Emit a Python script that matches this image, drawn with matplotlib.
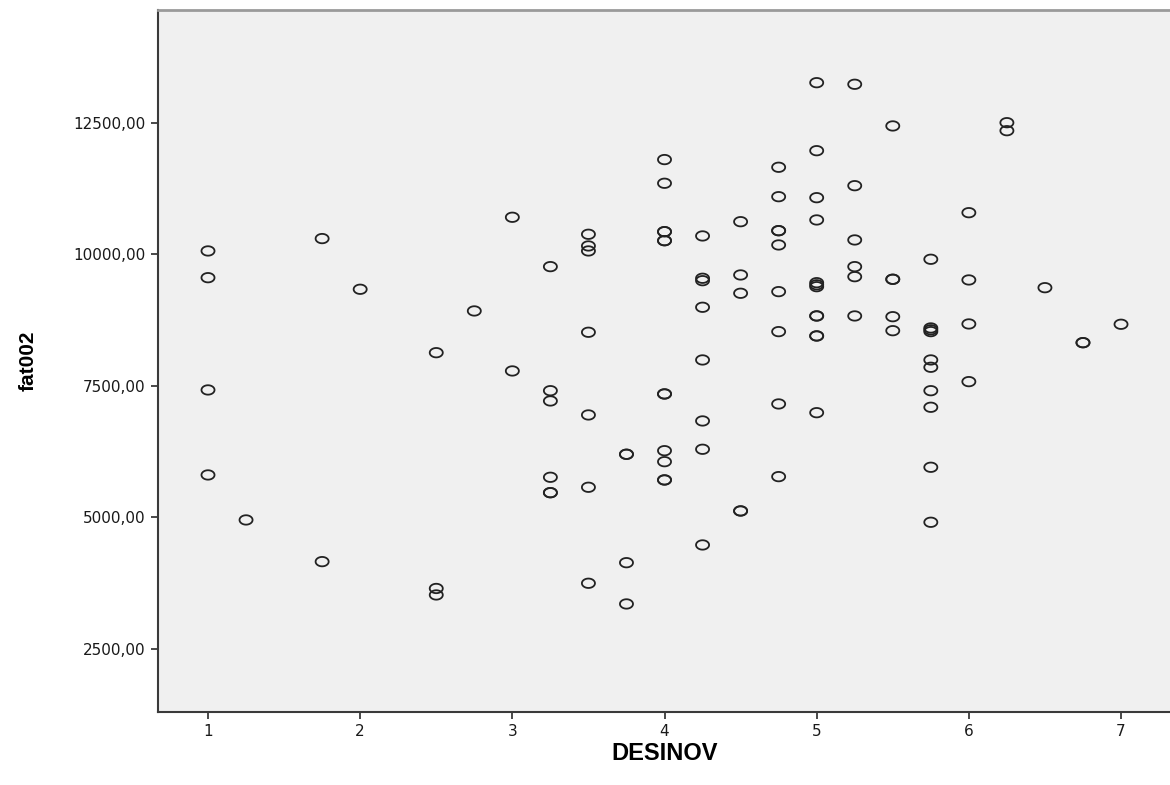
import matplotlib
matplotlib.use("Agg")
import matplotlib.pyplot as plt
import numpy as np
from matplotlib.path import Path

# ---- data ----
desinov = (
    [1, 1, 1, 1] + [1.25] + [1.75, 1.75] + [2] + [2.5, 2.5, 2.5] + [2.75] + [3, 3]
    + [3.25] * 6 + [3.5] * 7 + [3.75] * 4 + [4] * 12 + [4.25] * 8 + [4.5] * 5
    + [4.75] * 9 + [5] * 12 + [5.25] * 6 + [5.5] * 5 + [5.75] * 10 + [6] * 4
    + [6.25] * 2 + [6.5] + [6.75] * 2 + [7]
)
fat002 = [
    10063, 9555, 7422, 5807,
    4952,
    10298, 4160,
    9335,
    8130, 3650, 3527,
    8923,
    10703, 7783,
    9765, 7408, 7213, 5763, 5470, 5470,
    10380, 10158, 10063, 8518, 6947, 5573, 3749,
    6200, 6200, 4140, 3356,
    11799, 11349, 10429, 10429, 10258, 10258, 7346, 7346, 6268, 6059, 5712, 5712,
    10348, 9544, 9498, 8993, 7992, 6833, 6295, 4477,
    10619, 9607, 9259, 5123, 5123,
    11653, 11094, 10448, 10448, 10177, 9290, 8530, 7156, 5775,
    13260, 11968, 11075, 10652, 9460, 9420, 9384, 8828, 8828, 8448, 8448, 6990,
    13230, 11303, 10272, 9765, 9574, 8828,
    12438, 9525, 9525, 8814, 8548,
    9905, 8600, 8565, 8530, 7992, 7853, 7408, 7093, 5953, 4908,
    10790, 9512, 8676, 7580,
    12500, 12348,
    9365,
    8320, 8320,
    8670,
]
xticks = [1, 2, 3, 4, 5, 6, 7]
xtick_labels = ["1", "2", "3", "4", "5", "6", "7"]
yticks = [2500, 5000, 7500, 10000, 12500]
ytick_labels = ["2500,00", "5000,00", "7500,00", "10000,00", "12500,00"]
x_label = "DESINOV"
y_label = "fat002"

# ---- figure ----
W, H = 1170, 785
fig = plt.figure(figsize=(W / 100, H / 100), dpi=100)
left, right, bottom_px, top_px = 158, 1172, 712, 10
ax = fig.add_axes([left / W, (H - bottom_px) / H, (right - left) / W, (bottom_px - top_px) / H])
ax.set_facecolor("#f0f0f0")

# elliptical open marker (wider than tall)
t = np.linspace(0, 2 * np.pi, 60)
ell = Path(np.column_stack([np.cos(t), 0.72 * np.sin(t)]), closed=True)

ax.scatter(desinov, fat002, marker=ell, s=9.4 ** 2, facecolors="none",
           edgecolors="#222222", linewidths=1.3, zorder=3)

ax.set_xlim(0.6714, 7.335)
ax.set_ylim(1303, 14641)

ax.set_xticks(xticks)
ax.set_xticklabels(xtick_labels)
ax.set_yticks(yticks)
ax.set_yticklabels(ytick_labels)

for sp in ["left", "bottom"]:
    ax.spines[sp].set_color("#3a3a3a")
    ax.spines[sp].set_linewidth(1.5)
ax.spines["top"].set_color("#9a9a9a")
ax.spines["top"].set_linewidth(2.0)
ax.spines["right"].set_visible(False)

ax.tick_params(axis="both", direction="out", length=5, width=1.3, color="#3a3a3a",
               labelsize=11, labelcolor="#1a1a1a", pad=4)
for lab in ax.get_xticklabels() + ax.get_yticklabels():
    lab.set_family("DejaVu Sans")

ax.set_xlabel(x_label, fontsize=17, fontweight="bold", family="Liberation Sans", labelpad=2)
ax.set_ylabel(y_label, fontsize=15, fontweight="bold", family="Liberation Sans", labelpad=26)

fig.savefig("out.png", dpi=100)
